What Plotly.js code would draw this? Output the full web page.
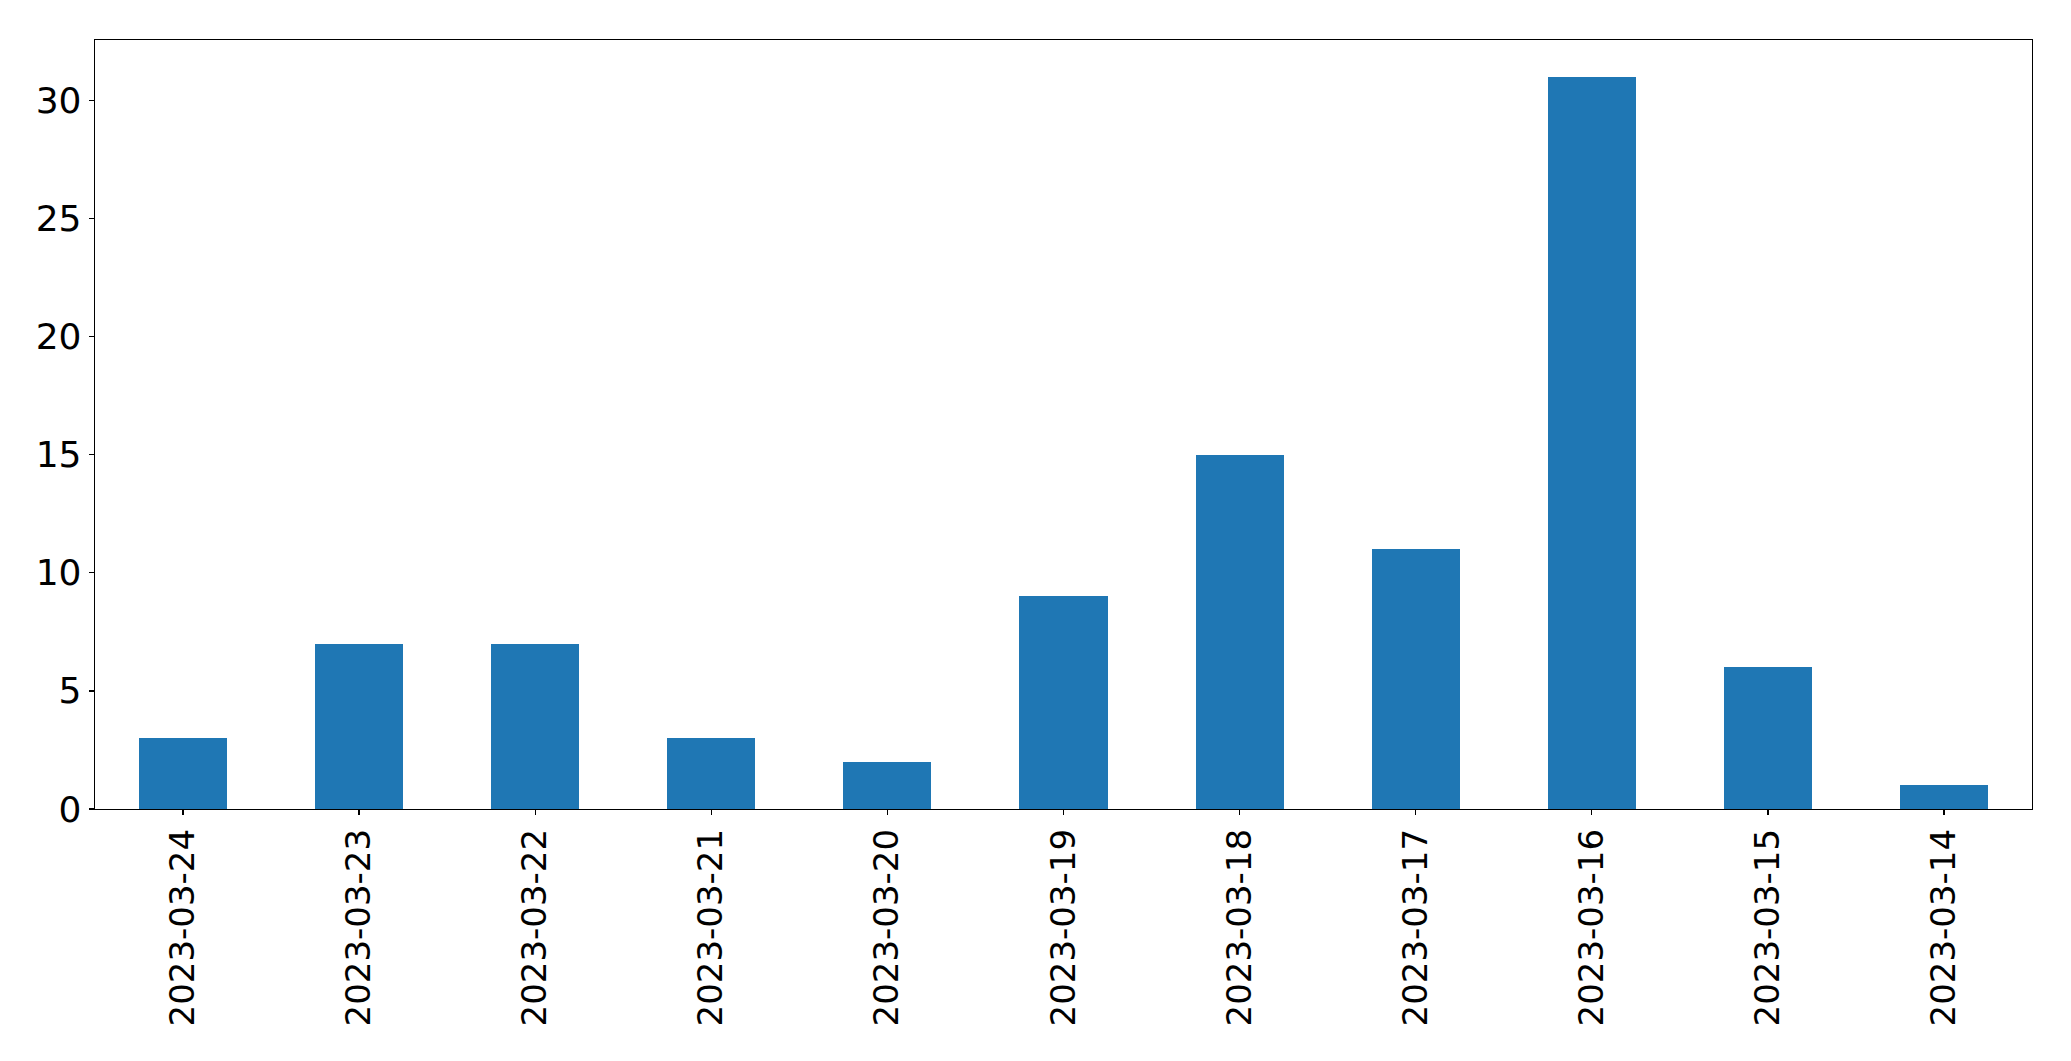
<!DOCTYPE html>
<html>
<head>
<meta charset="utf-8">
<script src="https://cdn.plot.ly/plotly-3.0.1.min.js"></script>
<style>html,body{margin:0;padding:0;background:#fff;}#chart{width:2071px;height:1061px;}</style>
</head>
<body>
<div id="chart"></div>
<script>
const dates = ["2023-03-24","2023-03-23","2023-03-22","2023-03-21","2023-03-20","2023-03-19","2023-03-18","2023-03-17","2023-03-16","2023-03-15","2023-03-14"];
const counts = [3, 7, 7, 3, 2, 9, 15, 11, 31, 6, 1];
const yTicks = [0, 5, 10, 15, 20, 25, 30];

const trace = {
  type: "bar",
  x: dates,
  y: counts,
  width: 0.5,
  marker: {color: "#1f77b4", line: {width: 0}},
  hoverinfo: "x+y"
};

const layout = {
  width: 2071,
  height: 1061,
  margin: {l: 95, r: 39, t: 40, b: 252, pad: 0},
  paper_bgcolor: "#ffffff",
  plot_bgcolor: "#ffffff",
  showlegend: false,
  font: {family: "DejaVu Sans", size: 34, color: "#000000"},
  bargap: 0,
  xaxis: {
    type: "category",
    range: [-0.5, dates.length - 0.5],
    tickangle: -90,
    ticks: "outside",
    ticklen: 5,
    tickwidth: 1.3,
    tickcolor: "#000",
    showline: true,
    linecolor: "#000",
    linewidth: 1.3,
    mirror: true,
    showgrid: false,
    zeroline: false,
    tickfont: {family: "DejaVu Sans", size: 34, color: "#000"},
    automargin: false
  },
  yaxis: {
    range: [0, 32.55],
    tickmode: "array",
    tickvals: yTicks,
    ticktext: yTicks.map(String),
    ticks: "outside",
    ticklen: 5,
    tickwidth: 1.3,
    tickcolor: "#000",
    showline: true,
    linecolor: "#000",
    linewidth: 1.3,
    mirror: true,
    showgrid: false,
    zeroline: false,
    tickfont: {family: "DejaVu Sans", size: 36, color: "#000"},
    automargin: false
  }
};

Plotly.newPlot("chart", [trace], layout, {displayModeBar: false, staticPlot: true});
</script>
</body>
</html>
